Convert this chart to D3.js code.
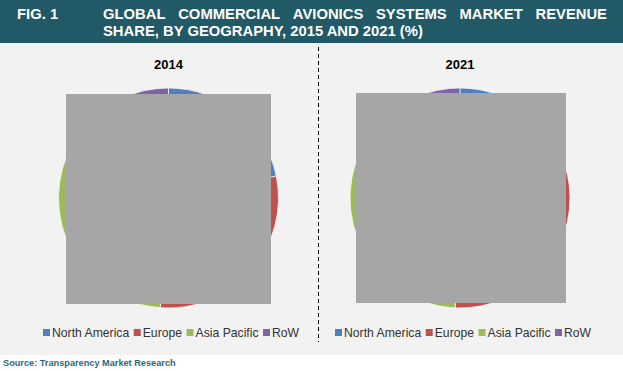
<!DOCTYPE html>
<html>
<head>
<meta charset="utf-8">
<script src="https://cdn.jsdelivr.net/npm/d3@7"></script>
<style>
  body { margin: 0; background: #fff; }
  svg { display: block; font-family: "Liberation Sans", Arial, sans-serif; }
</style>
</head>
<body>
<svg id="chart"></svg>
<script>
// data (most of each pie is hidden by the grey box)
var regions = ["North America", "Europe", "Asia Pacific", "RoW"];
var years = ["2014", "2021"];
var share2014 = [21.8, 29.4, 34.8, 14.0];
var share2021 = [21.2, 29.5, 36.3, 13.0];
var colors = ["#4f81bd", "#c0504d", "#9bbb59", "#8064a2"];

var width = 623, height = 371;
var headerH = 43, panelBottom = 355;
var radius = 110;

var svg = d3.select("#chart")
  .attr("width", width)
  .attr("height", height);

// header band
svg.append("rect")
  .attr("width", width)
  .attr("height", headerH)
  .attr("fill", "#225966");

svg.append("text")
  .attr("x", 17).attr("y", 19)
  .attr("fill", "#fff")
  .attr("font-size", 14.8).attr("font-weight", "bold")
  .text("FIG. 1");

// title, first line justified between 103 and 607
var line1 = "GLOBAL COMMERCIAL AVIONICS SYSTEMS MARKET REVENUE".split(" ");
var titleLeft = 103, titleRight = 607;
var words = svg.append("g").selectAll("text")
  .data(line1).enter()
  .append("text")
    .attr("y", 19)
    .attr("fill", "#fff")
    .attr("font-size", 14.8).attr("font-weight", "bold")
    .text(function(d) { return d; });
var lens = [];
words.each(function() { lens.push(this.getComputedTextLength()); });
var gap = (titleRight - titleLeft - d3.sum(lens)) / (line1.length - 1);
var cursor = titleLeft;
words.attr("x", function(d, i) {
  var x = cursor;
  cursor += lens[i] + gap;
  return x;
});

svg.append("text")
  .attr("x", titleLeft).attr("y", 36)
  .attr("fill", "#fff")
  .attr("font-size", 14.8).attr("font-weight", "bold")
  .text("SHARE, BY GEOGRAPHY, 2015 AND 2021 (%)");

// chart panel
svg.append("rect")
  .attr("y", headerH)
  .attr("width", width)
  .attr("height", panelBottom - headerH)
  .attr("fill", "#f2f2f2");

// divider
svg.append("line")
  .attr("x1", 318.5).attr("x2", 318.5)
  .attr("y1", headerH + 4).attr("y2", 342)
  .attr("stroke", "#000")
  .attr("stroke-width", 1)
  .attr("stroke-dasharray", "4,3");

var pie = d3.pie().sort(null).value(function(d) { return d; });
var arc = d3.arc().innerRadius(0).outerRadius(radius);

var panels = [
  { year: years[0], values: share2014, cx: 168.5, cy: 198, box: [66, 94, 205, 210], legendX: 43 },
  { year: years[1], values: share2021, cx: 460, cy: 198, box: [356, 93, 210, 210], legendX: 335 }
];

panels.forEach(function(p) {
  svg.append("text")
    .attr("x", p.cx).attr("y", 69)
    .attr("text-anchor", "middle")
    .attr("font-size", 13).attr("font-weight", "bold")
    .attr("fill", "#000")
    .text(p.year);

  var g = svg.append("g")
    .attr("transform", "translate(" + p.cx + "," + p.cy + ")");

  g.selectAll("path")
    .data(pie(p.values)).enter()
    .append("path")
      .attr("d", arc)
      .attr("fill", function(d, i) { return colors[i]; })
      .attr("stroke", "#fff")
      .attr("stroke-width", 0.7);

  // grey box that covers the pie in the original
  svg.append("rect")
    .attr("x", p.box[0]).attr("y", p.box[1])
    .attr("width", p.box[2]).attr("height", p.box[3])
    .attr("fill", "#a6a6a6");

  // legend
  var lg = svg.append("g");
  var lx = p.legendX;
  regions.forEach(function(r, i) {
    lg.append("rect")
      .attr("x", lx).attr("y", 329)
      .attr("width", 7).attr("height", 7)
      .attr("fill", colors[i]);
    var t = lg.append("text")
      .attr("x", lx + 9).attr("y", 337)
      .attr("font-size", 12.2)
      .attr("fill", "#333")
      .text(r);
    lx += 9 + t.node().getComputedTextLength() + 4.5;
  });
});

svg.append("text")
  .attr("x", 3).attr("y", 366)
  .attr("font-size", 9.2).attr("font-weight", "bold")
  .attr("fill", "#31687a")
  .text("Source: Transparency Market Research");
</script>
</body>
</html>
